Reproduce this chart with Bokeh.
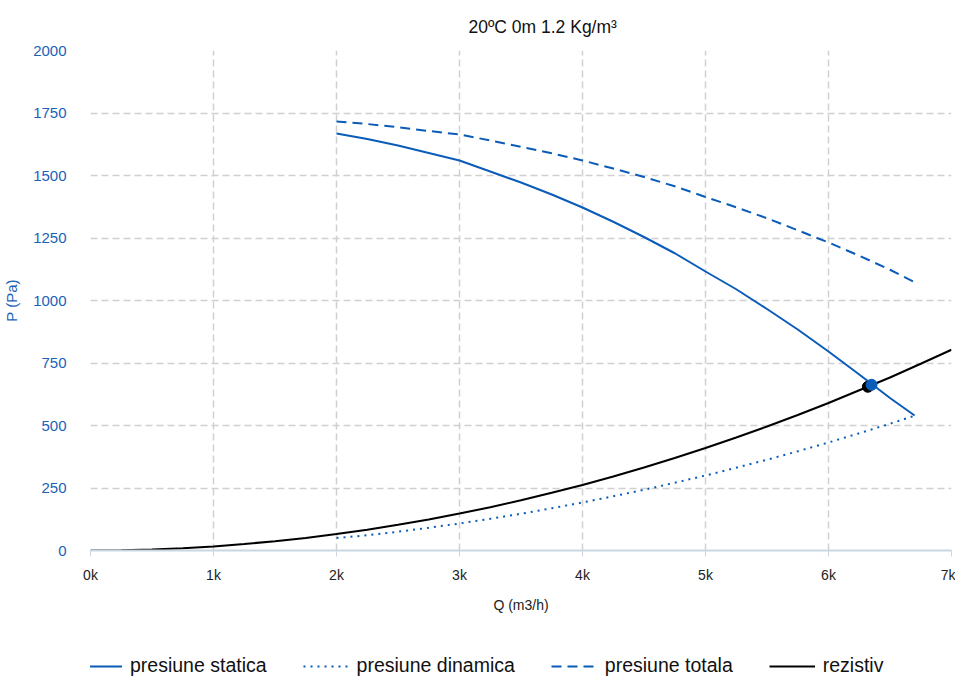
from bokeh.plotting import figure
from bokeh.layouts import column
from bokeh.models import (ColumnDataSource, FixedTicker, Range1d, Legend, LegendItem)
from bokeh.embed import file_html
from bokeh.resources import INLINE

# ---- data ----
q_fan = [2000, 2250, 2500, 2750, 3000, 3250, 3500, 3750, 4000, 4250, 4500,
         4750, 5000, 5250, 5500, 5750, 6000, 6250, 6500, 6700]
p_static = [1668, 1646, 1620, 1590, 1560, 1516, 1472, 1424, 1372, 1315, 1254,
            1189, 1116, 1045, 966, 884, 796, 704, 610, 540]
p_dynamic = [50, 61, 75, 91, 108, 127, 147, 169, 192, 217, 243,
             271, 300, 331, 363, 397, 432, 469, 507, 539]
p_total = [1716, 1706, 1693, 1678, 1664, 1640, 1615, 1589, 1560, 1528, 1494,
           1457, 1414, 1373, 1329, 1281, 1232, 1179, 1123, 1073]

q_sys = [0, 250, 500, 750, 1000, 1250, 1500, 1750, 2000, 2250, 2500, 2750, 3000,
         3250, 3500, 3750, 4000, 4250, 4500, 4750, 5000, 5250, 5500, 5750, 6000,
         6250, 6500, 6750, 7000]
p_sys = [0, 1, 4, 9, 16, 26, 37, 50, 66, 83, 103, 124, 148,
         173, 201, 231, 262, 296, 332, 370, 410, 452, 496, 542, 590,
         641, 692, 747, 803]

op_black = (6320, 655)
op_blue = (6350, 663)

x_ticks = [0, 1000, 2000, 3000, 4000, 5000, 6000, 7000]
x_labels = ["0k", "1k", "2k", "3k", "4k", "5k", "6k", "7k"]
y_ticks = [0, 250, 500, 750, 1000, 1250, 1500, 1750, 2000]
series_names = ["presiune statica", "presiune dinamica", "presiune totala", "rezistiv"]

title_text = "20ºC 0m 1.2 Kg/m³"
BLUE = "#0b5cb8"
LABEL_BLUE = "#1a62b8"
FONT = "Liberation Sans"

p = figure(width=954, height=614, output_backend="svg", toolbar_location=None,
           x_range=Range1d(0, 7000), y_range=Range1d(0, 2000),
           min_border_left=89, min_border_right=4, min_border_top=50,
           min_border_bottom=64)
p.frame_width = 861
p.frame_height = 500
p.outline_line_color = None
p.background_fill_color = "white"

p.title.text = title_text
p.title.text_font = FONT
p.title.text_font_size = "17.5px"
p.title.text_font_style = "normal"
p.title.text_color = "#111111"
p.title.align = "left"
p.title.vertical_align = "top"
p.title.offset = 378
p.title.standoff = 24

src_f = ColumnDataSource(dict(q=q_fan, s=p_static, d=p_dynamic, t=p_total))
src_s = ColumnDataSource(dict(q=q_sys, p=p_sys))

STYLES = [dict(line_color=BLUE, line_width=2),
          dict(line_color=BLUE, line_width=2, line_dash="2 5"),
          dict(line_color=BLUE, line_width=2, line_dash="10 6"),
          dict(line_color="black", line_width=2)]

p.line("q", "s", source=src_f, **STYLES[0])
p.line("q", "d", source=src_f, **STYLES[1])
p.line("q", "t", source=src_f, **STYLES[2])
p.line("q", "p", source=src_s, **STYLES[3])

p.scatter([op_black[0]], [op_black[1]], size=11, color="black")
p.scatter([op_blue[0]], [op_blue[1]], size=11, color=BLUE)

# axes
xa = p.xaxis[0]
xa.ticker = FixedTicker(ticks=x_ticks)
xa.major_label_overrides = {t: l for t, l in zip(x_ticks, x_labels)}
xa.axis_label = "Q (m3/h)"
xa.axis_label_text_font = FONT
xa.axis_label_text_font_style = "normal"
xa.axis_label_text_font_size = "14px"
xa.axis_label_text_color = "#222222"
xa.axis_label_standoff = 11
xa.major_label_text_font = FONT
xa.major_label_text_font_size = "14px"
xa.major_label_text_color = "#222222"
xa.axis_line_color = "#ccd6e2"
xa.axis_line_width = 2
xa.major_tick_line_color = "#ccd6e2"
xa.major_tick_out = 6
xa.major_tick_in = 0
xa.minor_tick_line_color = None
xa.major_label_standoff = 10

ya = p.yaxis[0]
ya.ticker = FixedTicker(ticks=y_ticks)
ya.axis_label = "P (Pa)"
ya.axis_label_text_font = FONT
ya.axis_label_text_font_style = "normal"
ya.axis_label_text_font_size = "15px"
ya.axis_label_text_color = LABEL_BLUE
ya.axis_label_standoff = 10
ya.major_label_text_font = FONT
ya.major_label_text_font_size = "15px"
ya.major_label_text_color = LABEL_BLUE
ya.axis_line_color = None
ya.major_tick_line_color = None
ya.minor_tick_line_color = None
ya.major_tick_out = 0
ya.major_label_standoff = 24

# grid
for g in (p.xgrid[0], p.ygrid[0]):
    g.grid_line_color = "#d0d0d0"
    g.grid_line_dash = "7 4"
    g.grid_line_width = 1.5
p.xgrid[0].ticker = FixedTicker(ticks=x_ticks)
p.ygrid[0].ticker = FixedTicker(ticks=y_ticks[1:])

# ---- legend strip below the chart (its lines fall outside its own view) ----
lg = figure(width=954, height=62, output_backend="svg", toolbar_location=None,
            x_range=Range1d(-2, -1), y_range=Range1d(-2, -1),
            x_axis_location=None, y_axis_location=None,
            min_border_left=0, min_border_right=0, min_border_top=0,
            min_border_bottom=0)
lg.grid.visible = False
lg.outline_line_color = None
series_data = [(q_fan, p_static), (q_fan, p_dynamic), (q_fan, p_total), (q_sys, p_sys)]
items = []
for name, st, (xs, ys) in zip(series_names, STYLES, series_data):
    r = lg.line(x=xs, y=ys, **st)
    items.append(LegendItem(label=name, renderers=[r]))
legend = Legend(items=items, orientation="horizontal", location=(-14, 0))
legend.label_text_font = FONT
legend.label_text_font_size = "19.5px"
legend.label_text_color = "#111111"
legend.glyph_width = 46
legend.glyph_height = 22
legend.label_height = 22
legend.label_standoff = 8
legend.spacing = 36
legend.padding = 0
legend.margin = 0
legend.border_line_color = None
legend.background_fill_alpha = 0
lg.add_layout(legend, "center")

open("out.html", "w").write(file_html(column(p, lg, spacing=0), INLINE))
